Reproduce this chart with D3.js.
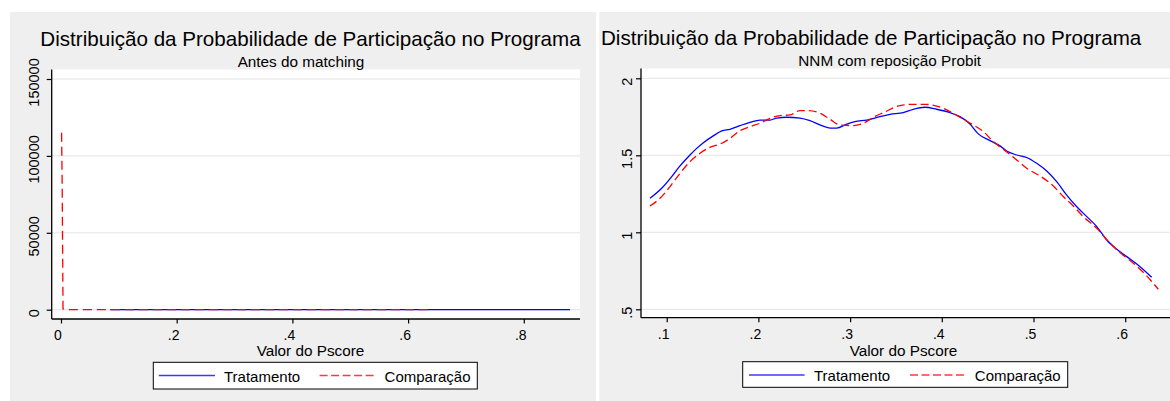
<!DOCTYPE html>
<html>
<head>
<meta charset="utf-8">
<script src="https://cdn.jsdelivr.net/npm/d3@7/dist/d3.min.js"></script>
<style>
  html, body { margin: 0; padding: 0; background: #ffffff; }
  svg { display: block; }
  text { font-family: "Liberation Sans", Arial, Helvetica, sans-serif; fill: #000; }
</style>
</head>
<body>
<svg id="chart" width="1170" height="401"></svg>
<script>
// ---------------- DATA ----------------
const mainTitle = "Distribuição da Probabilidade de Participação no Programa";
const subtitles = ["Antes do matching", "NNM com reposição Probit"];
const xAxisTitle = "Valor do Pscore";
const seriesNames = ["Tratamento", "Comparação"];

// Left panel (before matching)
const leftXTicks = [0, 0.2, 0.4, 0.6, 0.8];
const leftXTickLabels = ["0", ".2", ".4", ".6", ".8"];
const leftYTicks = [0, 50000, 100000, 150000];
const leftYTickLabels = ["0", "50000", "100000", "150000"];
const leftTratamentoPscore = [0.085, 0.15, 0.25, 0.35, 0.45, 0.55, 0.65, 0.75, 0.88];
const leftTratamentoDensity = [1.2, 1.6, 1.75, 1.7, 1.6, 1.3, 0.9, 0.5, 0.2];
const leftComparacaoPscore = [0.001, 0.002, 0.0035, 0.01, 0.05, 0.1, 0.2, 0.3, 0.4, 0.5, 0.635];
const leftComparacaoDensity = [115000, 82000, 500, 30, 4, 2, 1.8, 1.7, 1.7, 1.4, 0.6];

// Right panel (NNM with replacement, Probit)
const rightXTicks = [0.1, 0.2, 0.3, 0.4, 0.5, 0.6];
const rightXTickLabels = [".1", ".2", ".3", ".4", ".5", ".6"];
const rightYTicks = [0.5, 1, 1.5, 2];
const rightYTickLabels = [".5", "1", "1.5", "2"];
const rightTratamentoPscore = [0.0818, 0.0945, 0.1055, 0.1145, 0.1254, 0.1327, 0.14, 0.1508, 0.16, 0.169,
  0.18, 0.1908, 0.2017, 0.2127, 0.22, 0.2309, 0.2454, 0.2563, 0.2672, 0.2781, 0.2854, 0.2963, 0.3053,
  0.3181, 0.3326, 0.3435, 0.358, 0.3689, 0.3817, 0.3944, 0.409, 0.4198, 0.4307, 0.4398, 0.4526, 0.4635,
  0.4707, 0.4817, 0.4944, 0.5035, 0.5144, 0.5253, 0.5362, 0.5472, 0.5581, 0.569, 0.5799, 0.5908, 0.6017,
  0.6126, 0.6289];
const rightTratamentoDensity = [1.221, 1.286, 1.362, 1.431, 1.502, 1.545, 1.582, 1.626, 1.658, 1.669,
  1.693, 1.714, 1.729, 1.729, 1.742, 1.747, 1.742, 1.725, 1.697, 1.677, 1.677, 1.703, 1.719,
  1.729, 1.751, 1.766, 1.777, 1.799, 1.812, 1.799, 1.777, 1.751, 1.703, 1.639, 1.595, 1.561,
  1.528, 1.502, 1.481, 1.448, 1.398, 1.329, 1.242, 1.166, 1.102, 1.037, 0.95, 0.89, 0.842,
  0.794, 0.708];
const rightComparacaoPscore = [0.0818, 0.0927, 0.1036, 0.1145, 0.1254, 0.1363, 0.1472, 0.16, 0.169, 0.18,
  0.1908, 0.2017, 0.2127, 0.2236, 0.2345, 0.2454, 0.2544, 0.2672, 0.2781, 0.289, 0.3036, 0.3145, 0.3254,
  0.3363, 0.3544, 0.3689, 0.3817, 0.3944, 0.409, 0.4235, 0.4344, 0.4453, 0.4562, 0.4671, 0.4817, 0.4926,
  0.5071, 0.5216, 0.5325, 0.5434, 0.5543, 0.569, 0.5835, 0.5944, 0.6089, 0.6235, 0.6361];
const rightComparacaoDensity = [1.171, 1.221, 1.297, 1.383, 1.459, 1.513, 1.552, 1.578, 1.61, 1.66,
  1.686, 1.708, 1.74, 1.758, 1.762, 1.79, 1.79, 1.773, 1.734, 1.697, 1.693, 1.708, 1.747,
  1.777, 1.823, 1.831, 1.831, 1.82, 1.784, 1.734, 1.697, 1.654, 1.589, 1.539, 1.47, 1.416,
  1.366, 1.301, 1.232, 1.171, 1.102, 1.026, 0.929, 0.868, 0.799, 0.717, 0.63];

// ---------------- DRAWING ----------------
const svg = d3.select("#chart");
const FONT = '"Liberation Sans", Arial, Helvetica, sans-serif';

function zip(a, b) { return a.map((v, i) => [v, b[i]]); }

function drawPanel(cfg) {
  const g = svg.append("g");
  // panel background
  g.append("rect").attr("x", cfg.panel[0]).attr("y", cfg.panel[1])
    .attr("width", cfg.panel[2]).attr("height", cfg.panel[3]).attr("fill", "#efefef");
  // plot region
  const [pl, pt, pr, pb] = cfg.plot;
  g.append("rect").attr("x", pl).attr("y", pt).attr("width", pr - pl).attr("height", pb - pt)
    .attr("fill", "#ffffff");

  const x = d3.scaleLinear().domain(cfg.xDomain).range(cfg.xRange);
  const y = d3.scaleLinear().domain(cfg.yDomain).range(cfg.yRange);

  // gridlines
  g.append("g").selectAll("line").data(cfg.yTicks).join("line")
    .attr("x1", pl).attr("x2", pr)
    .attr("y1", d => y(d)).attr("y2", d => y(d))
    .attr("stroke", "#e4e4e4").attr("stroke-width", 1);

  const clipId = "clip" + cfg.id;
  svg.append("clipPath").attr("id", clipId).append("rect")
    .attr("x", pl).attr("y", pt).attr("width", pr - pl).attr("height", pb - pt);

  // lines
  const line = d3.line().x(d => x(d[0])).y(d => y(d[1])).curve(cfg.curve);
  const lg = g.append("g").attr("clip-path", `url(#${clipId})`);
  lg.append("path").datum(zip(cfg.tratX, cfg.tratY))
    .attr("d", line).attr("fill", "none").attr("stroke", "#0000ff").attr("stroke-width", 1.3);
  lg.append("path").datum(zip(cfg.compX, cfg.compY))
    .attr("d", line).attr("fill", "none").attr("stroke", "#ff0000").attr("stroke-width", 1.3)
    .attr("stroke-dasharray", cfg.dash);

  // x axis
  const xAxis = d3.axisBottom(x).tickValues(cfg.xTicks)
    .tickFormat((d, i) => cfg.xTickLabels[i]).tickSize(4.5).tickSizeOuter(0);
  const gx = g.append("g").attr("transform", `translate(0,${pb})`).call(xAxis);
  gx.select(".domain").remove();
  gx.selectAll(".tick line").attr("stroke", "#000").attr("stroke-width", 1.2);
  gx.selectAll(".tick text").attr("font-family", FONT).attr("font-size", 14)
    .attr("fill", "#000").attr("dy", 0).attr("y", cfg.xLabelBaseline - pb).attr("x", -3.5);
  g.append("line").attr("x1", pl).attr("x2", pr).attr("y1", pb).attr("y2", pb)
    .attr("stroke", "#000").attr("stroke-width", 1.3);

  // y axis
  const yAxis = d3.axisLeft(y).tickValues(cfg.yTicks)
    .tickFormat((d, i) => cfg.yTickLabels[i]).tickSize(5).tickSizeOuter(0);
  const gy = g.append("g").attr("transform", `translate(${pl},0)`).call(yAxis);
  gy.select(".domain").remove();
  gy.selectAll(".tick line").attr("stroke", "#000").attr("stroke-width", 1.2);
  gy.selectAll(".tick text").attr("font-family", FONT).attr("font-size", 14.5)
    .attr("fill", "#000").attr("x", 0).attr("y", 0).attr("dy", 0)
    .attr("text-anchor", "middle")
    .attr("transform", `translate(${cfg.yLabelBaseline - pl},3) rotate(-90)`);
  g.append("line").attr("x1", pl).attr("x2", pl).attr("y1", pt).attr("y2", pb)
    .attr("stroke", "#000").attr("stroke-width", 1.3);

  // titles
  g.append("text").attr("x", cfg.titlePos[0]).attr("y", cfg.titlePos[1])
    .attr("text-anchor", cfg.titleAnchor).attr("font-size", 20.6).text(mainTitle);
  g.append("text").attr("x", cfg.subPos[0]).attr("y", cfg.subPos[1])
    .attr("text-anchor", "middle").attr("font-size", 15.3).text(cfg.subtitle);
  g.append("text").attr("x", cfg.xTitlePos[0]).attr("y", cfg.xTitlePos[1])
    .attr("text-anchor", "middle").attr("font-size", 15.3).text(xAxisTitle);

  // legend
  const L = cfg.legend;
  g.append("rect").attr("x", L.box[0]).attr("y", L.box[1]).attr("width", L.box[2]).attr("height", L.box[3])
    .attr("fill", "#ffffff").attr("stroke", "#000").attr("stroke-width", 1);
  g.append("line").attr("x1", L.line1[0]).attr("x2", L.line1[1]).attr("y1", L.lineY).attr("y2", L.lineY)
    .attr("stroke", "#3a3aff").attr("stroke-width", 1.6);
  g.append("text").attr("x", L.text1).attr("y", L.textY).attr("font-size", 15).text(seriesNames[0]);
  g.append("line").attr("x1", L.line2[0]).attr("x2", L.line2[1]).attr("y1", L.lineY).attr("y2", L.lineY)
    .attr("stroke", "#ff3a3a").attr("stroke-width", 1.6).attr("stroke-dasharray", "8,3.5");
  g.append("text").attr("x", L.text2).attr("y", L.textY).attr("font-size", 15).text(seriesNames[1]);
}

drawPanel({
  id: "L",
  panel: [10, 12, 586, 389],
  plot: [51.7, 69.5, 580, 319],
  xDomain: [0, 0.8], xRange: [61, 523.8],
  yDomain: [0, 150000], yRange: [309.7, 79],
  xTicks: leftXTicks, xTickLabels: leftXTickLabels,
  yTicks: leftYTicks, yTickLabels: leftYTickLabels,
  tratX: leftTratamentoPscore, tratY: leftTratamentoDensity,
  compX: leftComparacaoPscore, compY: leftComparacaoDensity,
  curve: d3.curveLinear, dash: "9,5",
  xLabelBaseline: 340.3, yLabelBaseline: 39,
  titlePos: [310.5, 46.2], titleAnchor: "middle",
  subtitle: subtitles[0], subPos: [301, 66.5],
  xTitlePos: [310.5, 355.5],
  legend: { box: [153.3, 362.3, 324, 26.7], line1: [158.8, 215], line2: [319.6, 377],
            lineY: 375.5, text1: 224, text2: 384.6, textY: 381.5 }
});

drawPanel({
  id: "R",
  panel: [599.3, 12, 580, 389],
  plot: [641, 68.5, 1172, 317.7],
  xDomain: [0.1, 0.6], xRange: [666.7, 1125.2],
  yDomain: [0.5, 2], yRange: [309.3, 78.3],
  xTicks: rightXTicks, xTickLabels: rightXTickLabels,
  yTicks: rightYTicks, yTickLabels: rightYTickLabels,
  tratX: rightTratamentoPscore, tratY: rightTratamentoDensity,
  compX: rightComparacaoPscore, compY: rightComparacaoDensity,
  curve: d3.curveMonotoneX, dash: "8,4",
  xLabelBaseline: 339.3, yLabelBaseline: 632,
  titlePos: [601, 44.5], titleAnchor: "start",
  subtitle: subtitles[1], subPos: [889.7, 65.5],
  xTitlePos: [903.5, 355.5],
  legend: { box: [742.7, 361.7, 325, 25.6], line1: [749, 804.6], line2: [910, 967],
            lineY: 375, text1: 814, text2: 974.8, textY: 381 }
});
</script>
</body>
</html>
